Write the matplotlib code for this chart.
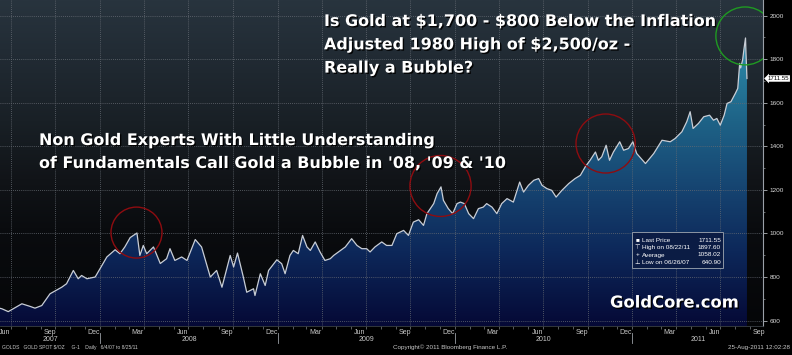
import numpy as np
import pandas as pd
import matplotlib

matplotlib.use("Agg")
import matplotlib.pyplot as plt
import matplotlib.dates as mdates
from matplotlib import patches, patheffects as pe
from matplotlib.colors import LinearSegmentedColormap

plt.rcParams["font.family"] = ["Liberation Sans", "DejaVu Sans"]

# gold spot
dates = [
    "2007-06-04", "2007-06-13", "2007-06-26", "2007-07-24", "2007-08-10", "2007-08-20",
    "2007-09-03", "2007-09-20", "2007-10-14", "2007-10-24", "2007-11-07", "2007-11-17",
    "2007-11-24", "2007-12-05", "2007-12-22", "2008-01-01", "2008-01-15", "2008-02-01",
    "2008-02-11", "2008-02-21", "2008-03-03", "2008-03-17", "2008-03-23", "2008-03-30",
    "2008-04-06", "2008-04-20", "2008-05-04", "2008-05-17", "2008-05-24", "2008-06-03",
    "2008-06-17", "2008-06-28", "2008-07-15", "2008-07-28", "2008-08-15", "2008-08-28",
    "2008-09-08", "2008-09-25", "2008-10-02", "2008-10-10", "2008-10-22", "2008-10-29",
    "2008-11-12", "2008-11-15", "2008-11-26", "2008-12-06", "2008-12-13", "2008-12-30",
    "2009-01-09", "2009-01-16", "2009-01-26", "2009-02-02", "2009-02-12", "2009-02-21",
    "2009-03-02", "2009-03-09", "2009-03-19", "2009-03-29", "2009-04-08", "2009-04-19",
    "2009-04-26", "2009-05-06", "2009-05-20", "2009-06-02", "2009-06-13", "2009-06-23",
    "2009-07-03", "2009-07-10", "2009-07-20", "2009-08-03", "2009-08-13", "2009-08-24",
    "2009-09-03", "2009-09-17", "2009-09-27", "2009-10-07", "2009-10-18", "2009-10-28",
    "2009-11-04", "2009-11-18", "2009-11-25", "2009-12-03", "2009-12-08", "2009-12-18",
    "2009-12-27", "2010-01-05", "2010-01-12", "2010-01-20", "2010-01-29", "2010-02-08",
    "2010-02-18", "2010-02-28", "2010-03-07", "2010-03-18", "2010-03-28", "2010-04-07",
    "2010-04-18", "2010-05-01", "2010-05-14", "2010-05-22", "2010-06-01", "2010-06-12",
    "2010-06-22", "2010-06-29", "2010-07-09", "2010-07-19", "2010-07-28", "2010-08-09",
    "2010-08-23", "2010-09-05", "2010-09-16", "2010-09-26", "2010-10-06", "2010-10-17",
    "2010-10-23", "2010-10-30", "2010-11-08", "2010-11-15", "2010-11-23", "2010-12-06",
    "2010-12-14", "2010-12-24", "2011-01-02", "2011-01-10", "2011-01-28", "2011-02-14",
    "2011-03-03", "2011-03-20", "2011-03-30", "2011-04-13", "2011-04-23", "2011-04-30",
    "2011-05-06", "2011-05-17", "2011-05-28", "2011-06-09", "2011-06-17", "2011-06-24",
    "2011-07-01", "2011-07-09", "2011-07-15", "2011-07-23", "2011-08-01", "2011-08-06",
    "2011-08-10", "2011-08-12", "2011-08-16", "2011-08-19", "2011-08-22", "2011-08-23",
    "2011-08-25",
]
prices = [
    659, 654, 641, 677, 665, 657,
    669, 723, 753, 769, 830, 792,
    807, 792, 800, 838, 892, 925,
    907, 938, 981, 1002, 899, 945,
    907, 938, 862, 884, 930, 876,
    892, 876, 972, 938, 800, 830,
    753, 899, 846, 910, 800, 730,
    746, 715, 815, 761, 830, 879,
    861, 815, 899, 922, 907, 991,
    938, 922, 961, 915, 876, 884,
    899, 915, 938, 976, 945, 930,
    930, 915, 938, 961, 945, 945,
    999, 1014, 991, 1052, 1063, 1037,
    1091, 1137, 1183, 1214, 1152, 1114,
    1091, 1137, 1144, 1137, 1091, 1068,
    1114, 1121, 1137, 1121, 1091, 1137,
    1160, 1144, 1236, 1190, 1221, 1244,
    1252, 1221, 1206, 1198, 1167, 1198,
    1229, 1252, 1267, 1306, 1336, 1374,
    1336, 1352, 1405, 1336, 1374, 1421,
    1382, 1390, 1421, 1367, 1321, 1367,
    1428, 1421, 1436, 1467, 1513, 1559,
    1482, 1505, 1536, 1543, 1520, 1528,
    1497, 1543, 1597, 1605, 1643, 1666,
    1781, 1760, 1796, 1850, 1897.6, 1827,
    1711.55,
]

legend_names = ["Last Price", "High on 08/22/11", "Average", "Low on 06/26/07"]
legend_marks = ["\u25a0", "\u22a4", "+", "\u22a5"]
legend_values = [1711.55, 1897.60, 1058.02, 640.90]

# circled spots: centre date, centre price, width (days), height ($), colour
circles = [
    ("2008-03-16", 1004, 105, 234, "#8e0c10"),
    ("2009-12-02", 1218, 126, 280, "#8e0c10"),
    ("2010-11-07", 1413, 122, 271, "#8e0c10"),
    ("2011-08-21", 1907, 120, 266, "#1f9a22"),
]

top_note = [
    "Is Gold at $1,700 - $800 Below the Inflation",
    "Adjusted 1980 High of $2,500/oz -",
    "Really a Bubble?",
]
left_note = [
    "Non Gold Experts With Little Understanding",
    "of Fundamentals Call Gold a Bubble in '08, '09 & '10",
]

W, H = 792, 355


def fx(px):
    return px / W


def fy(py):
    return 1 - py / H


fig = plt.figure(figsize=(W / 100, H / 100), dpi=100, facecolor="black")
ax = fig.add_axes([0, fy(326), fx(763), 326 / H])
ax.set_facecolor("black")

x = mdates.date2num(pd.to_datetime(dates))
y = np.array(prices, dtype=float)
xlo, xhi = mdates.date2num(pd.to_datetime(["2007-06-09", "2011-09-27"]))
ylo, yhi = 575, 2072

grad = np.linspace(0, 1, 256).reshape(-1, 1)
bg_cmap = LinearSegmentedColormap.from_list(
    "bg",
    [(0, "#050608"), (0.3, "#0a0c0f"), (0.45, "#111418"), (0.63, "#192026"),
     (0.85, "#222c35"), (1, "#28343e")],
)
ax.imshow(grad, extent=[xlo, xhi, ylo, yhi], origin="lower", aspect="auto",
          cmap=bg_cmap, zorder=0)

fill_cmap = LinearSegmentedColormap.from_list(
    "fill",
    [(0, "#050936"), (0.23, "#0d285a"), (0.45, "#174874"), (0.63, "#1e6387"),
     (0.82, "#2a83a3"), (1, "#3ba0bd")],
)
poly = patches.Polygon(
    np.column_stack([np.r_[x[0], x, x[-1]], np.r_[ylo, y, ylo]]),
    closed=True, fc="none", ec="none",
)
ax.add_patch(poly)
im = ax.imshow(grad, extent=[xlo, xhi, ylo, yhi], origin="lower", aspect="auto",
               cmap=fill_cmap, zorder=1)
im.set_clip_path(poly)

ax.plot(x, y, color="#c9ced6", lw=0.9, zorder=4)

for c_date, c_price, c_w, c_h, c_col in circles:
    ax.add_patch(patches.Ellipse((mdates.datestr2num(c_date), c_price), c_w, c_h,
                                 fill=False, ec=c_col, lw=1.0, zorder=5))

ax.set_xlim(xlo, xhi)
ax.set_ylim(ylo, yhi)

# grid
grid_kw = dict(color="#656b73", lw=0.6, ls=(0, (1, 1.5)))
for q in pd.date_range("2007-07-01", "2011-07-01", freq="QS"):
    ax.axvline(mdates.date2num(q), zorder=1.5, **grid_kw)
ax.yaxis.tick_right()
ax.set_yticks(range(600, 2001, 200))
ax.set_yticks(range(700, 2000, 200), minor=True)
ax.grid(axis="y", which="major", **grid_kw)
ax.tick_params(axis="y", which="major", direction="out", length=3, width=0.6,
               color="#b0b4b8", labelsize=4.6, labelcolor="#d8d8d8", pad=1.5)
ax.tick_params(axis="y", which="minor", direction="out", length=1.5, width=0.5,
               color="#909498")

# x axis: month ticks, labels mid-month
ax.set_xticks(mdates.date2num(pd.date_range("2007-07-01", "2011-09-01", freq="MS")))
ax.set_xticklabels([])
lab_dates = pd.date_range("2007-06-01", "2011-09-01", freq="3MS") + pd.Timedelta(days=18)
ax.set_xticks(mdates.date2num(lab_dates), minor=True)
ax.set_xticklabels([d.strftime("%b") for d in lab_dates], minor=True)
ax.tick_params(axis="x", which="major", direction="out", length=2, width=0.5,
               color="#7d8288")
ax.tick_params(axis="x", which="minor", length=0, labelsize=5, labelcolor="#c8c8c8",
               pad=1.8)

for s in ["left", "top"]:
    ax.spines[s].set_visible(False)
ax.spines["right"].set_color("#9aa0a8")
ax.spines["right"].set_linewidth(0.8)
ax.spines["bottom"].set_color("#3a4046")
ax.spines["bottom"].set_linewidth(0.6)

# years row
xt = ax.get_xaxis_transform()
for yr in range(2007, 2012):
    a = max(mdates.datestr2num(f"{yr}-01-01"), xlo)
    b = min(mdates.datestr2num(f"{yr + 1}-01-01"), xhi)
    ax.text((a + b) / 2, -0.04, str(yr), transform=xt, ha="center", va="center",
            fontsize=5, color="#c8c8c8", clip_on=False)
    if yr > 2007:
        ax.plot([a, a], [-0.022, -0.053], transform=xt, color="#9a9ea4", lw=0.6,
                clip_on=False)

# last price tag
ax.text(1.006, y[-1], f"{y[-1]:.2f}", transform=ax.get_yaxis_transform(),
        ha="left", va="center", fontsize=4.4, color="black", clip_on=False,
        bbox=dict(boxstyle="larrow,pad=0.12", fc="white", ec="none"))

# legend box
fig.add_artist(patches.Rectangle((fx(632), fy(268)), fx(723) - fx(632), 36 / H,
                                 transform=fig.transFigure, fc="#0b1c44",
                                 ec="#8c96a4", lw=0.7, zorder=6))
for i, (mk, nm, val) in enumerate(zip(legend_marks, legend_names, legend_values)):
    ry = fy(240 + 7.5 * i)
    fig.text(fx(637.5), ry, mk, ha="center", va="center", fontsize=4.6,
             color="white", zorder=7)
    fig.text(fx(642), ry, nm, ha="left", va="center", fontsize=4.6,
             color="white", zorder=7)
    fig.text(fx(721), ry, f"{val:.2f}", ha="right", va="center", fontsize=4.6,
             color="white", zorder=7)

# big white notes
shadow = [pe.withSimplePatchShadow(offset=(1, -1), shadow_rgbFace="black", alpha=0.9)]
note_kw = dict(ha="left", va="center", fontsize=11.5, fontweight="bold",
               color="white", family="DejaVu Sans", path_effects=shadow, zorder=8,
               parse_math=False)
for i, line in enumerate(top_note):
    fig.text(fx(324), fy(21.5 + 23.3 * i), line, **note_kw)
for i, line in enumerate(left_note):
    fig.text(fx(39), fy(140.5 + 23 * i), line, **note_kw)
fig.text(fx(610), fy(303), "GoldCore.com", **{**note_kw, "fontsize": 11.8})

# bloomberg footer
foot_kw = dict(va="center", fontsize=4.5, color="#c8c8c8", parse_math=False)
fig.text(fx(2), fy(347.5), "GOLDS   GOLD SPOT $/OZ     G-1    Daily   6/4/07 to 8/25/11",
         ha="left", **{**foot_kw, "fontsize": 3.6})
fig.text(fx(393), fy(347.5), "Copyright\u00a9 2011 Bloomberg Finance L.P.", ha="left",
         **foot_kw)
fig.text(fx(790), fy(347.5), "25-Aug-2011 12:02:28", ha="right", **foot_kw)

fig.savefig("out.png", dpi=100, facecolor="black")
